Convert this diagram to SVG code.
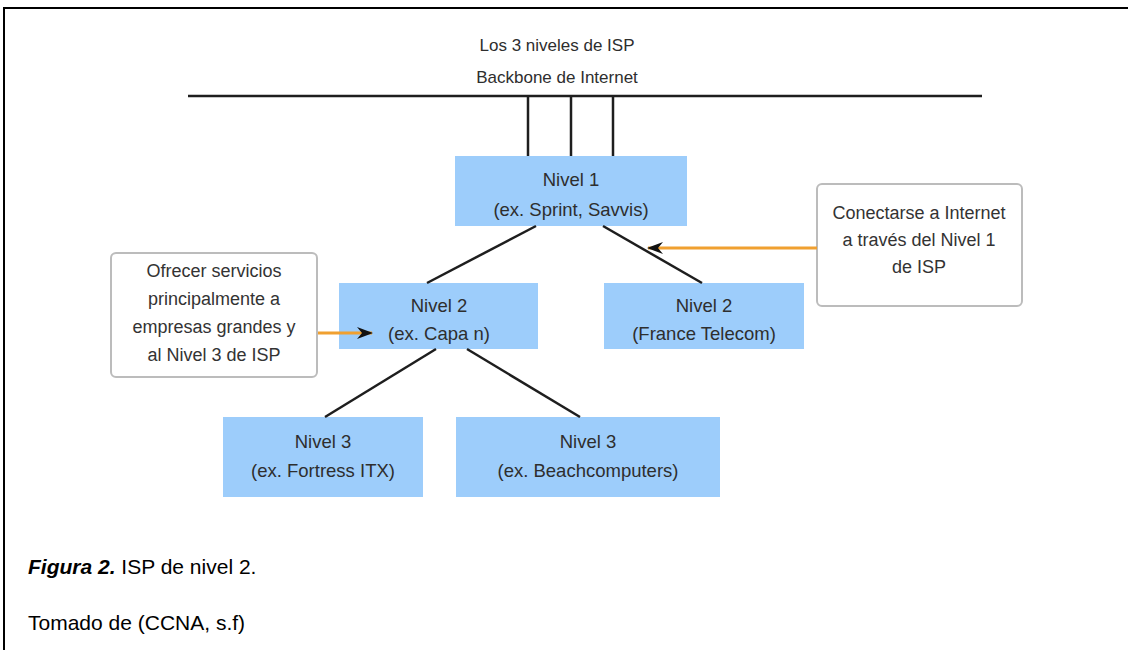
<svg xmlns="http://www.w3.org/2000/svg" width="1128" height="650" viewBox="0 0 1128 650">
  <style>
    .node rect { fill: #9dcdfb; }
    .ntext { font-family: "Liberation Sans", Arial, sans-serif; font-size: 18.5px; fill: #2e2e2e; text-anchor: middle; }
    .note rect { fill: #fff; stroke: #bcbcbc; stroke-width: 2; }
    .ctext { font-family: "Liberation Sans", Arial, sans-serif; font-size: 18px; fill: #333; text-anchor: middle; }
    .head { font-family: "Liberation Sans", Arial, sans-serif; font-size: 17px; fill: #2e2e2e; text-anchor: middle; }
    .link { stroke: #1e1e1e; stroke-width: 2.5; fill: none; }
    .pointer { stroke: #f0a030; stroke-width: 3; fill: none; }
    .cap { font-family: "Liberation Sans", Arial, sans-serif; font-size: 21px; fill: #000; }
  </style>
  <defs>
    <marker id="dart" markerWidth="16" markerHeight="12" viewBox="0 0 16 12" refX="15" refY="6" orient="auto" markerUnits="userSpaceOnUse">
      <path d="M0,0 L16,6 L0,12 L5,6 Z" fill="#111"/>
    </marker>
  </defs>

  <rect width="1128" height="650" fill="#fff"/>

  <!-- page frame -->
  <path d="M4,650 L4,8 L1128,8" fill="none" stroke="#000" stroke-width="2"/>

  <!-- headings -->
  <text class="head" x="557" y="51">Los 3 niveles de ISP</text>
  <text class="head" x="557" y="83">Backbone de Internet</text>

  <g id="nivel1" class="node">
    <rect x="455" y="156" width="232" height="70"/>
    <text class="ntext" x="571" y="186">Nivel 1</text>
    <text class="ntext" x="571" y="216">(ex. Sprint, Savvis)</text>
  </g>

  <g id="nivel2-capa" class="node">
    <rect x="339" y="283" width="199" height="66"/>
    <text class="ntext" x="439" y="312">Nivel 2</text>
    <text class="ntext" x="439" y="340">(ex. Capa n)</text>
  </g>

  <g id="nivel2-france" class="node">
    <rect x="604" y="283" width="200" height="66"/>
    <text class="ntext" x="704" y="312">Nivel 2</text>
    <text class="ntext" x="704" y="340">(France Telecom)</text>
  </g>

  <g id="nivel3-fortress" class="node">
    <rect x="223" y="417" width="200" height="80"/>
    <text class="ntext" x="323" y="448">Nivel 3</text>
    <text class="ntext" x="323" y="477">(ex. Fortress ITX)</text>
  </g>

  <g id="nivel3-beach" class="node">
    <rect x="456" y="417" width="264" height="80"/>
    <text class="ntext" x="588" y="448">Nivel 3</text>
    <text class="ntext" x="588" y="477">(ex. Beachcomputers)</text>
  </g>

  <g id="nota-nivel2" class="note">
    <rect x="111" y="253" width="206" height="124" rx="5"/>
    <text class="ctext" x="214" y="277">Ofrecer servicios</text>
    <text class="ctext" x="214" y="305">principalmente a</text>
    <text class="ctext" x="214" y="333">empresas grandes y</text>
    <text class="ctext" x="214" y="361">al Nivel 3 de ISP</text>
  </g>

  <g id="nota-nivel1" class="note">
    <rect x="817" y="184" width="205" height="122" rx="5"/>
    <text class="ctext" x="919" y="219">Conectarse a Internet</text>
    <text class="ctext" x="919" y="246">a través del Nivel 1</text>
    <text class="ctext" x="919" y="273">de ISP</text>
  </g>

  <!-- connectors, drawn last so the arrowheads sit over the boxes -->
  <g id="connectors">
    <line class="link" x1="188" y1="96" x2="982" y2="96" stroke-width="3"/>
    <line class="link" x1="528" y1="96" x2="528" y2="156"/>
    <line class="link" x1="571" y1="96" x2="571" y2="156"/>
    <line class="link" x1="613" y1="96" x2="613" y2="156"/>
    <line class="link" x1="536" y1="226" x2="427" y2="283"/>
    <line class="link" x1="603" y1="226" x2="702" y2="283"/>
    <line class="link" x1="436" y1="349" x2="325" y2="417"/>
    <line class="link" x1="467" y1="349" x2="580" y2="417"/>
    <line class="pointer" x1="318" y1="333" x2="372" y2="333" marker-end="url(#dart)"/>
    <line class="pointer" x1="817" y1="248" x2="648" y2="248" marker-end="url(#dart)"/>
  </g>

  <!-- caption -->
  <text class="cap" x="28" y="574"><tspan font-weight="bold" font-style="italic">Figura 2.</tspan> ISP de nivel 2.</text>
  <text class="cap" x="28" y="630">Tomado de (CCNA, s.f)</text>
</svg>
